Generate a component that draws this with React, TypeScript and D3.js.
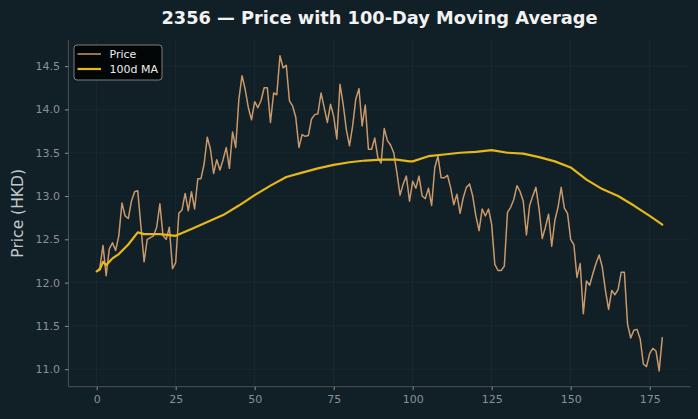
import React, { useEffect, useRef } from 'react';
import * as d3 from 'd3';

// daily close (day 0..179)
const prices = [
  12.13, 12.17, 12.43, 12.08, 12.39, 12.46, 12.37, 12.54, 12.92, 12.77,
  12.74, 12.94, 13.05, 13.06, 12.65, 12.24, 12.5, 12.52, 12.54, 12.64,
  12.91, 12.54, 12.5, 12.64, 12.16, 12.23, 12.8, 12.84, 13.03, 12.83,
  13.05, 12.85, 13.2, 13.2, 13.37, 13.68, 13.54, 13.26, 13.42, 13.3,
  13.42, 13.56, 13.32, 13.74, 13.56, 14.12, 14.39, 14.23, 14.02, 13.88,
  14.09, 14.02, 14.1, 14.25, 14.25, 13.85, 14.19, 14.17, 14.62, 14.48,
  14.51, 14.1, 14.04, 13.91, 13.56, 13.71, 13.69, 13.7, 13.89, 13.94,
  13.95, 14.19, 14.02, 13.85, 14.06, 13.92, 13.66, 14.29, 14.06, 13.77,
  13.58, 13.81, 14.12, 14.24, 13.81, 14.05, 13.54, 13.54, 13.67, 13.44,
  13.38, 13.78, 13.64, 13.59, 13.5, 13.27, 13.01, 13.14, 13.23, 12.94,
  13.17, 13.09, 13.23, 13.0, 12.97, 13.09, 12.89, 13.33, 13.46, 13.21,
  13.21, 13.24, 13.1, 12.9, 13.02, 12.8, 12.98, 13.1, 13.14, 13.0,
  12.77, 12.6, 12.85, 12.77, 12.85, 12.67, 12.21, 12.14, 12.14, 12.19,
  12.81, 12.87, 12.96, 13.12, 13.05, 12.94, 12.55, 12.89, 13.0, 13.1,
  12.85, 12.51, 12.64, 12.79, 12.42, 12.72, 12.87, 13.1, 12.86, 12.8,
  12.5, 12.44, 12.06, 12.22, 11.64, 12.02, 11.97, 12.1, 12.22, 12.32,
  12.18, 11.91, 11.69, 11.91, 11.86, 11.92, 12.12, 12.12, 11.52, 11.36,
  11.45, 11.46, 11.35, 11.06, 11.03, 11.18, 11.24, 11.21, 10.98, 11.37,
];

// 100-day moving average, read at these days
const maDays = [0, 1, 2, 3, 4, 5, 7, 10, 13, 15, 20, 25, 30, 35, 40, 45, 50, 55, 60, 65, 70, 75, 80, 85, 90, 95, 99, 100, 105, 110, 115, 120, 125, 130, 135, 140, 145, 150, 155, 160, 165, 170, 175, 179];
const maValues = [12.13, 12.15, 12.24, 12.2, 12.24, 12.28, 12.33, 12.44, 12.58, 12.56, 12.56, 12.54, 12.62, 12.7, 12.78, 12.89, 13.01, 13.12, 13.22, 13.27, 13.32, 13.36, 13.39, 13.41, 13.42, 13.42, 13.4, 13.4, 13.46, 13.48, 13.5, 13.51, 13.53, 13.5, 13.49, 13.45, 13.4, 13.33, 13.19, 13.08, 13.0, 12.89, 12.77, 12.67];

const xTicks = [0, 25, 50, 75, 100, 125, 150, 175];
const yTicks = [11.0, 11.5, 12.0, 12.5, 13.0, 13.5, 14.0, 14.5];

const App = () => {
  const svgRef = useRef<SVGSVGElement>(null);

  useEffect(() => {
    const width = 698;
    const height = 419;
    const margin = { top: 40, right: 7.4, bottom: 32.3, left: 68.4 };
    const font = 'DejaVu Sans, sans-serif';

    const svg = d3.select(svgRef.current);
    svg.selectAll('*').remove();
    svg.attr('width', width).attr('height', height);

    svg.append('rect').attr('width', width).attr('height', height).attr('fill', '#111f26');

    const xPad = (prices.length - 1) * 0.05;
    const x = d3
      .scaleLinear()
      .domain([-xPad, prices.length - 1 + xPad])
      .range([margin.left, width - margin.right]);

    const [lo, hi] = d3.extent(prices) as [number, number];
    const yPad = (hi - lo) * 0.05;
    const y = d3
      .scaleLinear()
      .domain([lo - yPad, hi + yPad])
      .range([height - margin.bottom, margin.top]);

    // grid
    const grid = svg.append('g').attr('stroke', '#ffffff').attr('stroke-opacity', 0.05).attr('stroke-width', 0.8);
    grid.selectAll('.gx').data(xTicks).enter().append('line')
      .attr('x1', d => x(d)).attr('x2', d => x(d))
      .attr('y1', margin.top).attr('y2', height - margin.bottom);
    grid.selectAll('.gy').data(yTicks).enter().append('line')
      .attr('x1', margin.left).attr('x2', width - margin.right)
      .attr('y1', d => y(d)).attr('y2', d => y(d));

    // axes
    const xAxis = svg.append('g')
      .attr('transform', `translate(0, ${height - margin.bottom})`)
      .call(d3.axisBottom(x).tickValues(xTicks).tickSize(3.5).tickPadding(5).tickFormat(d3.format('d')));
    const yAxis = svg.append('g')
      .attr('transform', `translate(${margin.left}, 0)`)
      .call(d3.axisLeft(y).tickValues(yTicks).tickSize(3.5).tickPadding(5).tickFormat(d3.format('.1f')));

    [xAxis, yAxis].forEach(ax => {
      ax.select('.domain').attr('stroke', '#4d5256').attr('stroke-width', 1);
      ax.selectAll('.tick line').attr('stroke', '#8a9196');
      ax.selectAll('.tick text').attr('fill', '#8a9196').attr('font-size', 11).attr('font-family', font);
    });
    // matplotlib style spine: no end caps
    xAxis.select('.domain').attr('d', `M${margin.left},0H${width - margin.right}`);
    yAxis.select('.domain').attr('d', `M0,${margin.top}V${height - margin.bottom}`);

    // lines
    const priceLine = d3.line<number>().x((_, i) => x(i)).y(d => y(d));
    svg.append('path')
      .datum(prices)
      .attr('d', priceLine)
      .attr('fill', 'none')
      .attr('stroke', '#c9996b')
      .attr('stroke-width', 1.5)
      .attr('stroke-linejoin', 'round');

    const maLine = d3.line<number>().x((_, i) => x(maDays[i])).y(d => y(d));
    svg.append('path')
      .datum(maValues)
      .attr('d', maLine)
      .attr('fill', 'none')
      .attr('stroke', '#e6b818')
      .attr('stroke-width', 2.2)
      .attr('stroke-linejoin', 'round')
      .attr('stroke-linecap', 'round');

    // title + y label
    svg.append('text')
      .attr('x', (margin.left + width - margin.right) / 2)
      .attr('y', 24)
      .attr('text-anchor', 'middle')
      .attr('font-family', font)
      .attr('font-size', 17.8)
      .attr('font-weight', 'bold')
      .attr('fill', '#f2f2f2')
      .text('2356 — Price with 100-Day Moving Average');

    svg.append('text')
      .attr('transform', `translate(23, ${(margin.top + height - margin.bottom) / 2}) rotate(-90)`)
      .attr('text-anchor', 'middle')
      .attr('font-family', font)
      .attr('font-size', 15.5)
      .attr('fill', '#c3c9cd')
      .text('Price (HKD)');

    // legend
    const legend = svg.append('g').attr('transform', 'translate(74, 45)');
    legend.append('rect')
      .attr('width', 88).attr('height', 35).attr('rx', 3)
      .attr('fill', '#000000').attr('fill-opacity', 0.8)
      .attr('stroke', '#9a9a9a').attr('stroke-width', 0.8);
    const items = [
      { label: 'Price', color: '#c9996b', w: 1.5 },
      { label: '100d MA', color: '#e6b818', w: 2.2 },
    ];
    items.forEach((it, i) => {
      const ly = 9 + i * 15;
      legend.append('line')
        .attr('x1', 3.5).attr('x2', 27).attr('y1', ly).attr('y2', ly)
        .attr('stroke', it.color).attr('stroke-width', it.w);
      legend.append('text')
        .attr('x', 35.5).attr('y', ly + 4)
        .attr('font-family', font).attr('font-size', 11)
        .attr('fill', '#ececec')
        .text(it.label);
    });
  }, []);

  return (
    <svg ref={svgRef} style={{ position: 'absolute', left: 0, top: 0, display: 'block' }}></svg>
  );
};

export default App;
